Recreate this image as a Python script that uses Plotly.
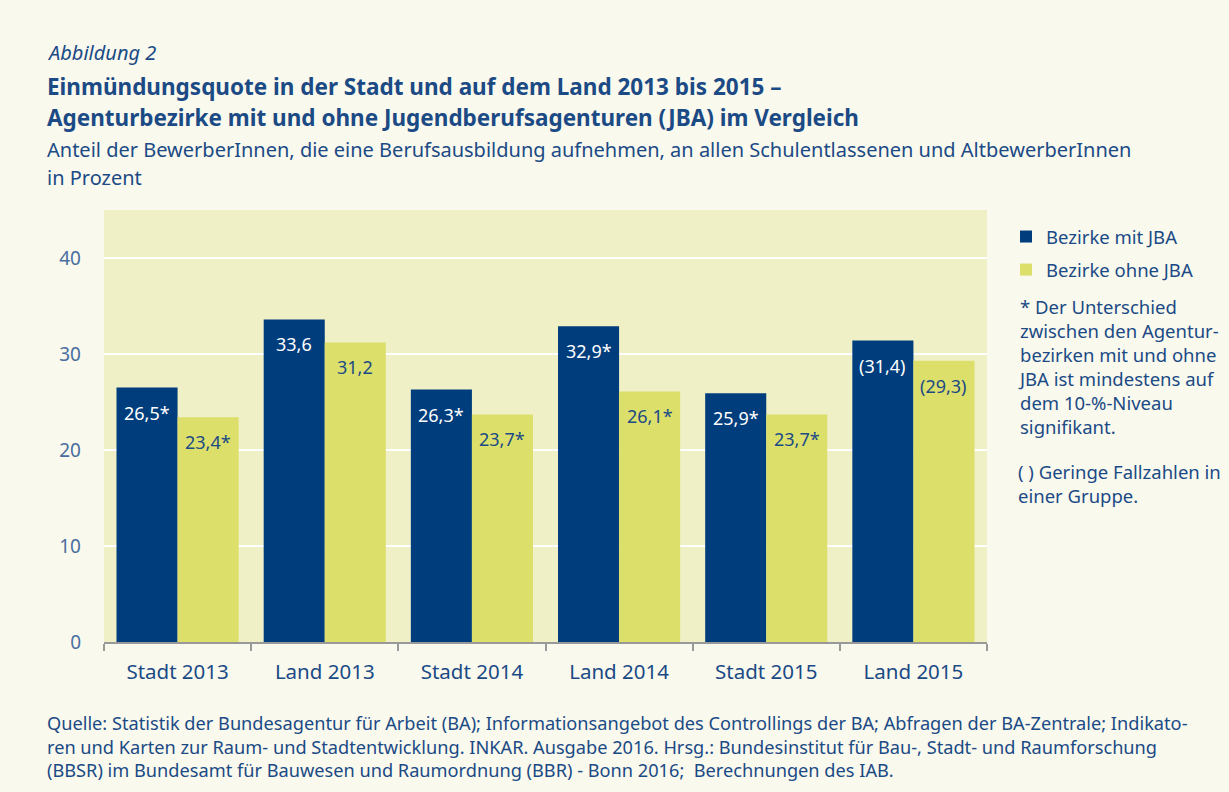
import plotly.graph_objects as go

categories = ["Stadt 2013", "Land 2013", "Stadt 2014", "Land 2014", "Stadt 2015", "Land 2015"]
mit_jba = [26.5, 33.6, 26.3, 32.9, 25.9, 31.4]
ohne_jba = [23.4, 31.2, 23.7, 26.1, 23.7, 29.3]
mit_labels = ["26,5*", "33,6", "26,3*", "32,9*", "25,9*", "(31,4)"]
ohne_labels = ["23,4*", "31,2", "23,7*", "26,1*", "23,7*", "(29,3)"]
y_ticks = [0, 10, 20, 30, 40]

DARK = "#003D7C"
LIGHT = "#DCDF6A"
TXT = "#1B4A85"
FONT = "Noto Sans"

W, H = 1229, 792
L, R, T, B = 104, 242, 210, 150
pw, ph = W - L - R, H - T - B
def px(x):
    return (x - L) / pw
def py(y):
    return (H - B - y) / ph

fig = go.Figure()
fig.add_trace(go.Bar(x=categories, y=mit_jba, name="Bezirke mit JBA", marker_color=DARK,
                     marker_line_width=0, offsetgroup="a", legendgroup="a"))
fig.add_trace(go.Bar(x=categories, y=ohne_jba, name="Bezirke ohne JBA", marker_color=LIGHT,
                     marker_line_width=0, offsetgroup="b", legendgroup="b"))

ann = []
for i, c in enumerate(categories):
    ann.append(dict(x=i, y=mit_jba[i], xref="x", yref="y", xshift=-30.5, yshift=-25,
                    text=mit_labels[i], showarrow=False, yanchor="middle",
                    font=dict(family=FONT, size=18, color="white")))
    ann.append(dict(x=i, y=ohne_jba[i], xref="x", yref="y", xshift=30.5, yshift=-25,
                    text=ohne_labels[i], showarrow=False, yanchor="middle",
                    font=dict(family=FONT, size=18, color=TXT)))

title_items = [
    (52, "<i>Abbildung 2</i>", 20),
    (86, "<b>Einmündungsquote in der Stadt und auf dem Land 2013 bis 2015 –</b>", 22.5),
    (117, "<b>Agenturbezirke mit und ohne Jugendberufsagenturen (JBA) im Vergleich</b>", 22.5),
    (149, "Anteil der BewerberInnen, die eine Berufsausbildung aufnehmen, an allen Schulentlassenen und AltbewerberInnen", 20),
    (177, "in Prozent", 20),
]
for yy, txt, sz in title_items:
    ann.append(dict(x=px(45), y=py(yy), xref="paper", yref="paper", text=txt, showarrow=False,
                    xanchor="left", yanchor="middle", font=dict(family=FONT, size=sz, color=TXT)))

notes = ("* Der Unterschied<br>zwischen den Agentur-<br>bezirken mit und ohne<br>"
         "JBA ist mindestens auf<br>dem 10-%-Niveau<br>signifikant.")
ann.append(dict(x=px(1016), y=py(292), xref="paper", yref="paper", text=notes, showarrow=False,
                xanchor="left", yanchor="top", align="left",
                font=dict(family=FONT, size=18.5, color=TXT)))
ann.append(dict(x=px(1016), y=py(457), xref="paper", yref="paper",
                text="( ) Geringe Fallzahlen in<br>einer Gruppe.", showarrow=False,
                xanchor="left", yanchor="top", align="left",
                font=dict(family=FONT, size=18.5, color=TXT)))

footer = ("Quelle: Statistik der Bundesagentur für Arbeit (BA); Informationsangebot des Controllings der BA; Abfragen der BA-Zentrale; Indikato-<br>"
          "ren und Karten zur Raum- und Stadtentwicklung. INKAR. Ausgabe 2016. Hrsg.: Bundesinstitut für Bau-, Stadt- und Raumforschung<br>"
          "(BBSR) im Bundesamt für Bauwesen und Raumordnung (BBR) - Bonn 2016;  Berechnungen des IAB.")
ann.append(dict(x=px(45), y=py(709), xref="paper", yref="paper", text=footer, showarrow=False,
                xanchor="left", yanchor="top", align="left",
                font=dict(family=FONT, size=18.2, color=TXT)))

fig.update_layout(
    width=W, height=H,
    margin=dict(l=L, r=R, t=T, b=B),
    paper_bgcolor="#F9F9EE",
    plot_bgcolor="#F0F0C7",
    barmode="group",
    bargap=0.17,
    bargroupgap=0,
    font=dict(family=FONT, color=TXT),
    showlegend=True,
    legend=dict(x=px(1006), y=py(218), xanchor="left", yanchor="top",
                font=dict(family=FONT, size=18.5, color=TXT), bgcolor="rgba(0,0,0,0)",
                tracegroupgap=6, itemwidth=30),
    annotations=ann,
    xaxis=dict(showgrid=False, showline=True, linecolor="#999999", linewidth=2,
               ticks="outside", tickson="boundaries", ticklen=7, tickcolor="#999999",
               tickwidth=2, tickfont=dict(family=FONT, size=20.5, color=TXT),
               ticklabelstandoff=10),
    yaxis=dict(range=[0, 45], tickvals=y_ticks, showgrid=True, gridcolor="white", gridwidth=2,
               zeroline=False, showline=False, ticks="",
               tickfont=dict(family=FONT, size=19, color="#4A6EA0"), ticklabelstandoff=22),
)

fig.write_html("out.html", config={"displayModeBar": False},
               post_script="document.body.style.margin='0';")
